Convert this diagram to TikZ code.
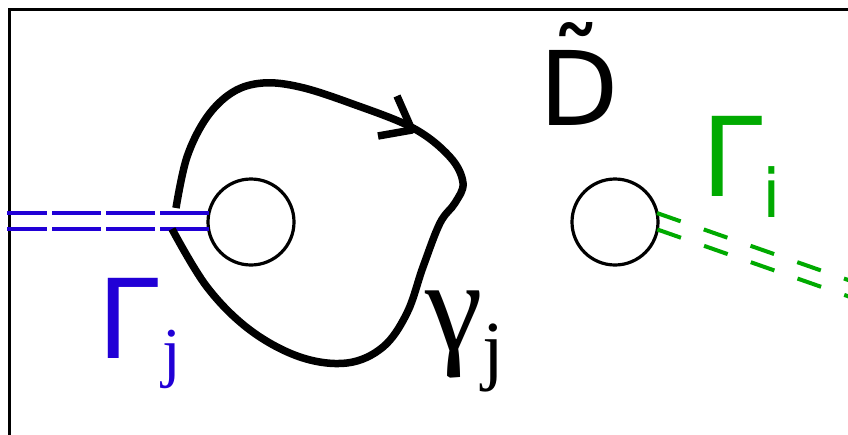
\documentclass[tikz,border=0pt]{standalone}
\usepackage{fontspec}
\usetikzlibrary{positioning}
\newfontfamily\labsans{DejaVu Sans}
\newfontfamily\labserif{Liberation Serif}
\definecolor{cutblue}{RGB}{33,0,214}
\definecolor{cutgreen}{RGB}{0,170,0}
\tikzset{
  hole/.style={circle,draw,line width=3.2pt,minimum size=86pt,inner sep=0pt,outer sep=0pt},
  cutj/.style={cutblue,line width=4pt,dash pattern=on 49pt off 5pt},
  cuti/.style={cutgreen,line width=4pt,dash pattern=on 25pt off 24.5pt},
  loopline/.style={line width=7.5pt},
  lab/.style={anchor=base west,inner sep=0pt,outer sep=0pt}
}

\begin{document}
\begin{tikzpicture}[x=1pt,y=-1pt]
  \useasboundingbox (0,0) rectangle (848,434);
  % domain frame
  \draw[line width=3pt] (860,9) -- (9,9) -- (9,445);
  % holes
  \node[hole] (holej) at (251,222) {};
  \node[hole] (holei) at (615,222) {};
  % cuts
  \coordinate (leftedge) at (7,222);
  \draw[cutj] (holej.168) -- (holej.168 -| leftedge);
  \draw[cutj] (holej.190) -- (holej.190 -| leftedge);
  \draw[cuti] (holei.12) -- ++(19.3:260) coordinate (cutiendA);
  \draw[cuti] (holei.-10) -- ++(19.3:260) coordinate (cutiendB);
  % contour gamma_j
  \draw[loopline] plot[smooth,tension=0.6] coordinates {
    (176,208) (187,157) (207,117) (233,92) (263,83) (300,87) (350,103)
    (413,128) (450,157) (463,183) (455,203) (440,223) (423,267) (407,313)
    (383,347) (347,363) (300,357) (250,330) (207,287) (172,229)};
  \draw[loopline,line join=round] (397,96) -- (412,130) -- (378,136);
  % labels
  \node[lab,cutblue] (labGj) at (97,358)
    {\labsans\fontsize{110}{110}\selectfont Γ\hspace{4pt}\raisebox{-16pt}{\labserif\fontsize{67}{67}\selectfont j}};
  \node[lab,cutgreen] (labGi) at (701,196)
    {\labsans\fontsize{110}{110}\selectfont Γ\raisebox{-21pt}{\fontsize{67}{67}\selectfont i}};
  \node[lab] (labgj) at (425,350)
    {\labserif\fontsize{130}{130}\selectfont γ\raisebox{-25pt}{\fontsize{78}{78}\selectfont j}};
  \node[lab] (labD) at (539,125)
    {\labsans\fontsize{103}{103}\selectfont\rlap{\hspace{11pt}\raisebox{23pt}{˜}}D};
\end{tikzpicture}
\end{document}
